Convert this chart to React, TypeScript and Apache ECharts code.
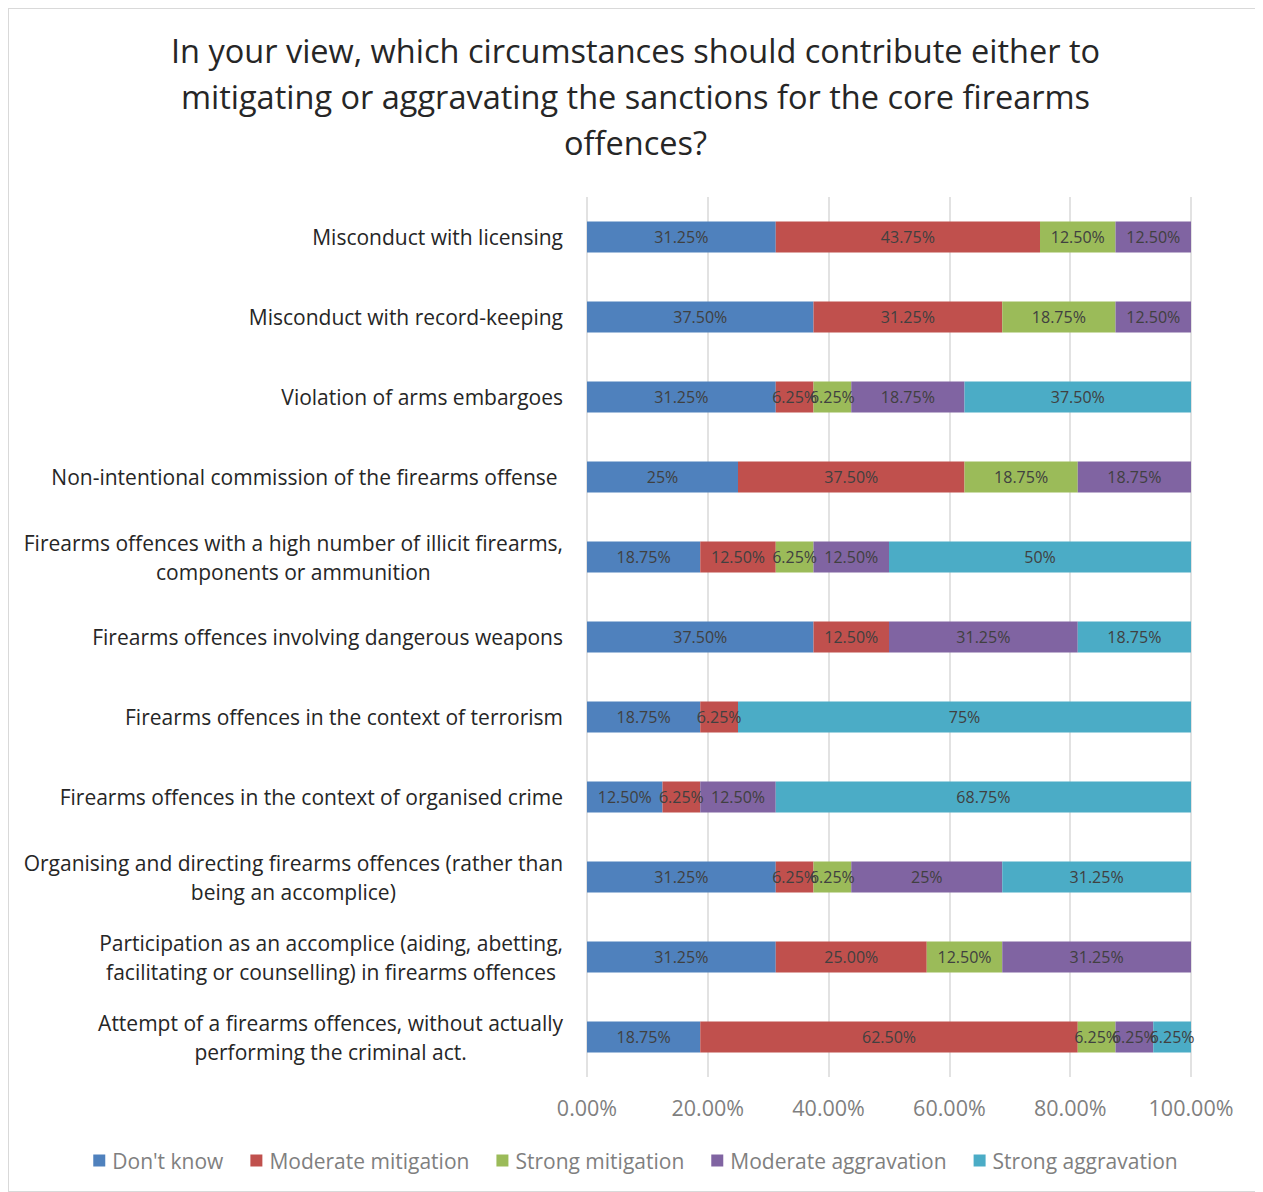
import React, { useEffect, useRef } from "react";
import * as echarts from "echarts";

const titleText =
  "In your view, which circumstances should contribute either to\nmitigating or aggravating the sanctions for the core firearms\noffences?";

const categories = [
  "Misconduct with licensing",
  "Misconduct with record-keeping",
  "Violation of arms embargoes",
  "Non-intentional commission of the firearms offense ",
  "Firearms offences with a high number of illicit firearms,\ncomponents or ammunition",
  "Firearms offences involving dangerous weapons",
  "Firearms offences in the context of terrorism",
  "Firearms offences in the context of organised crime",
  "Organising and directing firearms offences (rather than\nbeing an accomplice)",
  "Participation as an accomplice (aiding, abetting,\nfacilitating or counselling) in firearms offences",
  "Attempt of a firearms offences, without actually\nperforming the criminal act.",
];

const seriesNames = [
  "Don't know",
  "Moderate mitigation",
  "Strong mitigation",
  "Moderate aggravation",
  "Strong aggravation",
];

const dontKnow = [31.25, 37.5, 31.25, 25, 18.75, 37.5, 18.75, 12.5, 31.25, 31.25, 18.75];
const moderateMitigation = [43.75, 31.25, 6.25, 37.5, 12.5, 12.5, 6.25, 6.25, 6.25, 25, 62.5];
const strongMitigation = [12.5, 18.75, 6.25, 18.75, 6.25, 0, 0, 0, 6.25, 12.5, 6.25];
const moderateAggravation = [12.5, 12.5, 18.75, 18.75, 12.5, 31.25, 0, 12.5, 25, 31.25, 6.25];
const strongAggravation = [0, 0, 37.5, 0, 50, 18.75, 75, 68.75, 31.25, 0, 6.25];

const dontKnowLabels = ["31.25%", "37.50%", "31.25%", "25%", "18.75%", "37.50%", "18.75%", "12.50%", "31.25%", "31.25%", "18.75%"];
const moderateMitigationLabels = ["43.75%", "31.25%", "6.25%", "37.50%", "12.50%", "12.50%", "6.25%", "6.25%", "6.25%", "25.00%", "62.50%"];
const strongMitigationLabels = ["12.50%", "18.75%", "6.25%", "18.75%", "6.25%", "", "", "", "6.25%", "12.50%", "6.25%"];
const moderateAggravationLabels = ["12.50%", "12.50%", "18.75%", "18.75%", "12.50%", "31.25%", "", "12.50%", "25%", "31.25%", "6.25%"];
const strongAggravationLabels = ["", "", "37.50%", "", "50%", "18.75%", "75%", "68.75%", "31.25%", "", "6.25%"];

const xTicks = [0, 20, 40, 60, 80, 100];

const colors = ["#4F81BD", "#C0504D", "#9BBB59", "#8064A2", "#4BACC6"];

const FONT = "'Open Sans', Lato, sans-serif";

export default function App() {
  const ref = useRef<HTMLDivElement>(null);

  useEffect(() => {
    if (!ref.current) return;
    const chart = echarts.init(ref.current, null, { renderer: "svg" });
    const values = [dontKnow, moderateMitigation, strongMitigation, moderateAggravation, strongAggravation];
    const labels = [dontKnowLabels, moderateMitigationLabels, strongMitigationLabels, moderateAggravationLabels, strongAggravationLabels];

    chart.setOption({
      animation: false,
      textStyle: { fontFamily: FONT },
      title: {
        text: titleText,
        left: "center",
        top: 14,
        textStyle: {
          fontFamily: FONT,
          fontSize: 32.5,
          fontWeight: "normal",
          color: "#262626",
          lineHeight: 46,
        },
      },
      legend: {
        data: seriesNames,
        left: "center",
        top: 1137,
        icon: "rect",
        itemWidth: 12,
        itemHeight: 12,
        itemGap: 27,
        textStyle: { fontFamily: FONT, fontSize: 21, color: "#7f7f7f", padding: [0, 0, 0, 2] },
      },
      grid: { left: 579, top: 189, width: 604, height: 880, containLabel: false },
      xAxis: {
        type: "value",
        min: xTicks[0],
        max: xTicks[xTicks.length - 1],
        interval: 20,
        axisLine: { show: false },
        axisTick: { show: false },
        splitLine: { lineStyle: { color: "#d9d9d9", width: 1.5 } },
        axisLabel: {
          margin: 19,
          fontFamily: FONT,
          fontSize: 21.5,
          color: "#7f7f7f",
          formatter: (v: number) => v.toFixed(2) + "%",
        },
      },
      yAxis: {
        type: "category",
        inverse: true,
        data: categories,
        axisLine: { show: false },
        axisTick: { show: false },
        axisLabel: {
          margin: 24,
          formatter: (v: string) => v.split("\n").map((l) => `{c|${l}}`).join("\n"),
          rich: {
            c: {
              align: "center",
              fontFamily: FONT,
              fontSize: 21,
              color: "#262626",
              lineHeight: 29,
            },
          },
        },
      },
      series: seriesNames.map((name, si) => ({
        name,
        type: "bar",
        stack: "total",
        barWidth: 31,
        itemStyle: { color: colors[si] },
        label: {
          show: true,
          position: "inside",
          fontFamily: FONT,
          fontSize: 16,
          color: "#404040",
          formatter: (p: any) => labels[si][p.dataIndex],
        },
        data: values[si].map((v) => (v === 0 ? null : v)),
      })),
    });
    return () => chart.dispose();
  }, []);

  return (
    <div
      style={{
        position: "relative",
        width: 1255,
        height: 1184,
        boxSizing: "border-box",
        border: "1px solid #d9d9d9",
        background: "#fff",
      }}
    >
      <div ref={ref} style={{ position: "absolute", left: -1, top: -1, width: 1255, height: 1184 }} />
    </div>
  );
}
